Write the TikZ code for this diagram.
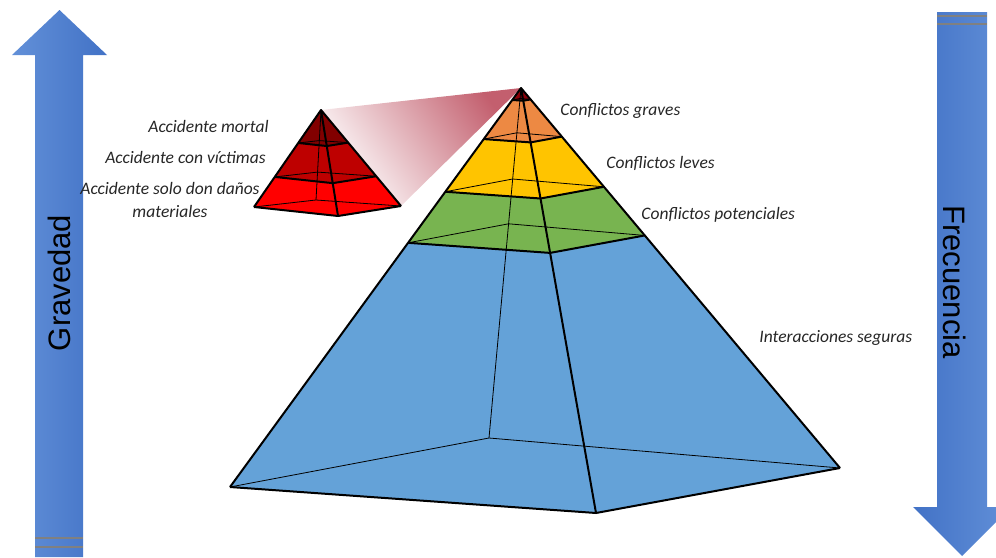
\documentclass[tikz,border=0pt]{standalone}
\usepackage{fontspec}
\setmainfont{Carlito}
\newfontfamily\arrowfont{Liberation Sans}
\usetikzlibrary{calc}
\definecolor{arrowlight}{RGB}{98,144,216}
\definecolor{arrowdark}{RGB}{66,114,198}
\definecolor{tipred}{RGB}{140,0,10}
\definecolor{layorange}{RGB}{237,137,67}
\definecolor{layyellow}{RGB}{255,196,0}
\definecolor{laygreen}{RGB}{120,180,80}
\definecolor{layblue}{RGB}{100,162,216}
\definecolor{sdark}{RGB}{130,0,0}
\definecolor{smid}{RGB}{190,0,0}
\definecolor{sbright}{RGB}{255,0,0}
\definecolor{wedgepink}{RGB}{195,95,110}

\begin{document}
\begin{tikzpicture}[x=0.5pt, y=-0.5pt,
                    lab/.style={font=\fontsize{8.75}{11.5}\selectfont\itshape, text=black!85, inner sep=0pt},
                    side/.style={font=\arrowfont\fontsize{15.5}{18}\selectfont, inner sep=0pt},
                    edge/.style={line width=1pt, line join=round},
                    back/.style={line width=0.4pt}]
                    \clip (0,0) rectangle (996,557);
                    % Arrows
                    \shade[left color=arrowlight, right color=arrowdark]
                        (35,557) -- (35,55) -- (12,55) -- (59.5,10) -- (107,55) -- (83,55) -- (83,557) -- cycle;
                    \draw[gray, line width=1pt] (35,538) -- (83,538) (35,547) -- (83,547);
                    \shade[left color=arrowdark, right color=arrowlight]
                        (937,12) -- (937,507) -- (913,507) -- (962,556) -- (1011,507) -- (987,507) -- (987,12) -- cycle;
                    \draw[gray, line width=1pt] (937,16) -- (987,16) (937,24) -- (987,24);
                    \node[side, rotate=90] (grav) at (59,283) {Gravedad};
                    \node[side, rotate=-90] (frec) at (955,282) {Frecuencia};
                    % Corners
                    \coordinate (sA) at (321,110);
                    \coordinate (sL) at (254,207);
                    \coordinate (sF) at (338,216);
                    \coordinate (sR) at (401,206);
                    \coordinate (sB) at (316,200);
                    \coordinate (bA) at (521,88);
                    \coordinate (bL) at (230,487);
                    \coordinate (bF) at (596,513);
                    \coordinate (bR) at (840,468);
                    \coordinate (bB) at (489,438);
                    % Zoom wedge
                    \shade[left color=white, middle color=wedgepink!14, right color=wedgepink, shading angle=125]
                        (sA) -- (bA) -- (sR) -- cycle;
                    % Small pyramid
                    \foreach \ta/\tb/\laycol in {0/0.34/sdark, 0.34/0.69/smid, 0.69/1/sbright}
                        \fill[\laycol] ($(sA)!\ta!(sL)$) -- ($(sA)!\ta!(sF)$) -- ($(sA)!\ta!(sR)$)
                            -- ($(sA)!\tb!(sR)$) -- ($(sA)!\tb!(sF)$) -- ($(sA)!\tb!(sL)$) -- cycle;
                    \foreach \lev in {0.34,0.69,1}
                        \draw[back] ($(sA)!\lev!(sL)$) -- ($(sA)!\lev!(sB)$) -- ($(sA)!\lev!(sR)$);
                    \draw[back] (sA) -- (sB);
                    \foreach \lev in {0.34,0.69,1}
                        \draw[edge] ($(sA)!\lev!(sL)$) -- ($(sA)!\lev!(sF)$) -- ($(sA)!\lev!(sR)$);
                    \draw[edge] (sL) -- (sA) -- (sR) (sA) -- (sF);
                    % Big pyramid
                    \foreach \ta/\tb/\laycol in {0/0.03/tipred, 0.03/0.128/layorange, 0.128/0.26/layyellow,
                                                 0.26/0.388/laygreen, 0.388/1/layblue}
                        \fill[\laycol] ($(bA)!\ta!(bL)$) -- ($(bA)!\ta!(bF)$) -- ($(bA)!\ta!(bR)$)
                            -- ($(bA)!\tb!(bR)$) -- ($(bA)!\tb!(bF)$) -- ($(bA)!\tb!(bL)$) -- cycle;
                    \foreach \lev in {0.03,0.128,0.26,0.388,1}
                        \draw[back] ($(bA)!\lev!(bL)$) -- ($(bA)!\lev!(bB)$) -- ($(bA)!\lev!(bR)$);
                    \draw[back] (bA) -- (bB);
                    \foreach \lev in {0.03,0.128,0.26,0.388,1}
                        \draw[edge] ($(bA)!\lev!(bL)$) -- ($(bA)!\lev!(bF)$) -- ($(bA)!\lev!(bR)$);
                    \draw[edge] (bL) -- (bA) -- (bR) (bA) -- (bF);
                    % Labels
                    \node[lab, anchor=east] (mortal) at (269,126) {Accidente mortal};
                    \node[lab, anchor=east] (victim) at (266,157) {Accidente con víctimas};
                    \node[lab, anchor=east, align=center] (danos) at (260,199.5) {Accidente solo don daños\\materiales};
                    \node[lab, anchor=west] (graves) at (560,111) {Conflictos graves};
                    \node[lab, anchor=west] (leves) at (606,163) {Conflictos leves};
                    \node[lab, anchor=west] (poten) at (641,215) {Conflictos potenciales};
                    \node[lab, anchor=west] (segur) at (759,338) {Interacciones seguras};
                \end{tikzpicture}
\end{document}
